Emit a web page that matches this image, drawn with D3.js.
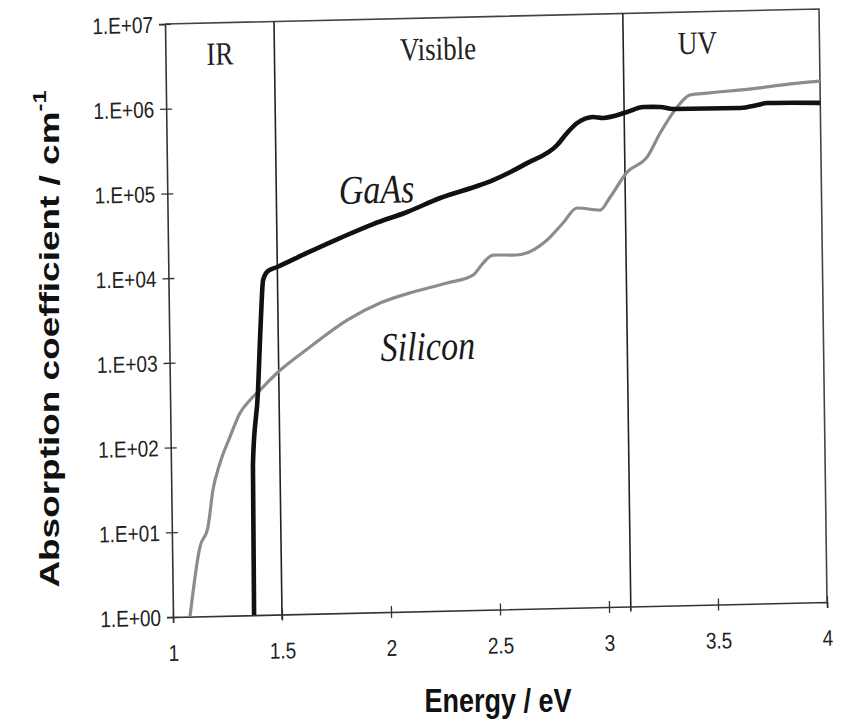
<!DOCTYPE html>
<html>
<head>
<meta charset="utf-8">
<script src="https://cdn.jsdelivr.net/npm/d3@7"></script>
<style>
  body { margin: 0; background: #fff; }
  svg { display: block; }
</style>
</head>
<body>
<svg id="chart" width="843" height="724"></svg>
<script>
// Axis ticks
const energyTicks = [1, 1.5, 2, 2.5, 3, 3.5, 4];
const energyTickLabels = ["1", "1.5", "2", "2.5", "3", "3.5", "4"];
const alphaTicks = [1, 10, 100, 1e3, 1e4, 1e5, 1e6, 1e7];
const alphaTickLabels = ["1.E+00", "1.E+01", "1.E+02", "1.E+03", "1.E+04", "1.E+05", "1.E+06", "1.E+07"];

// Spectral regions (boundaries in eV) and their names
const regionBounds = [1.5, 3.1];
const regionNames = ["IR", "Visible", "UV"];
const regionLabelEnergy = [1.25, 2.25, 3.44];

// GaAs absorption coefficient (cm^-1) vs photon energy (eV)
const gaasEnergy = [1.372, 1.376, 1.404, 1.416, 1.422, 1.434, 1.457, 1.499, 1.637, 1.789, 1.942, 2.099, 2.251, 2.435, 2.495, 2.652, 2.791, 2.837, 2.884, 2.957, 3.003, 3.114, 3.188, 3.266, 3.325, 3.633, 3.711, 3.756, 4.0];
const gaasAlpha = [1, 60, 450, 1760, 3280, 8950, 11400, 12650, 18200, 26700, 38300, 52000, 74500, 103500, 117500, 182000, 292000, 403000, 525000, 612000, 592000, 686000, 778000, 771000, 723000, 713000, 764000, 804000, 780000];

// Silicon absorption coefficient (cm^-1) vs photon energy (eV)
const siliconEnergy = [1.078, 1.128, 1.166, 1.191, 1.225, 1.272, 1.32, 1.367, 1.413, 1.492, 1.645, 1.817, 1.969, 2.121, 2.278, 2.397, 2.444, 2.49, 2.6, 2.739, 2.813, 2.878, 2.984, 3.031, 3.11, 3.203, 3.264, 3.344, 3.404, 3.482, 3.712, 3.863, 4.0];
const siliconAlpha = [1, 6.6, 11.3, 30.7, 63.7, 128, 245, 347, 452, 710, 1410, 2860, 4460, 5890, 7360, 9000, 12400, 15300, 15100, 22300, 35000, 52100, 48600, 68900, 134000, 200000, 380000, 762000, 1050000, 1090000, 1210000, 1330000, 1410000];

// Series labels and where they sit (energy, alpha)
const seriesNames = ["GaAs", "Silicon"];
const seriesLabelEnergy = [1.96, 2.185];
const seriesLabelAlpha = [67600, 920];

const W = 654, H = 593;
const svg = d3.select("#chart");

// The printed frame is slightly skewed; draw the plot in its own sheared frame.
const g = svg.append("g")
  .attr("transform", "matrix(1,-0.02294,0.01349,1,165,24)");

const x = d3.scaleLinear().domain([1, 4]).range([0, W]);
const y = d3.scaleLog().domain([1, 1e7]).range([H, 0]);

const axisColor = "#333";
const tickFont = "'Liberation Sans', Arial, sans-serif";
const serif = "'Liberation Serif', 'Times New Roman', serif";

// Frame: top and right edges
g.append("path")
  .attr("d", `M0,0H${W}V${H}`)
  .attr("fill", "none")
  .attr("stroke", "#444")
  .attr("stroke-width", 1.6);

// Region boundaries
g.selectAll("line.region")
  .data(regionBounds)
  .join("line")
  .attr("class", "region")
  .attr("x1", d => x(d)).attr("x2", d => x(d))
  .attr("y1", 0).attr("y2", H + 5)
  .attr("stroke", "#222")
  .attr("stroke-width", 1.6);

// Bottom axis
const xAxis = g.append("g")
  .attr("transform", `translate(0,${H})`)
  .call(d3.axisBottom(x)
    .tickValues(energyTicks)
    .tickFormat((d, i) => energyTickLabels[i])
    .tickSizeOuter(0)
    .tickSize(6));
xAxis.select(".domain").attr("stroke", axisColor).attr("stroke-width", 1.6);
xAxis.selectAll(".tick line").attr("y1", -6).attr("stroke", axisColor).attr("stroke-width", 1.3);
xAxis.selectAll(".tick text")
  .attr("y", null).attr("dy", null)
  .attr("transform", "translate(0,44) scale(1,1.2)")
  .attr("fill", "#222")
  .style("font-family", tickFont)
  .style("font-size", "19px");

// Left axis
const yAxis = g.append("g")
  .call(d3.axisLeft(y)
    .tickValues(alphaTicks)
    .tickFormat((d, i) => alphaTickLabels[i])
    .tickSizeOuter(0)
    .tickSize(6));
yAxis.select(".domain").attr("stroke", axisColor).attr("stroke-width", 1.6);
yAxis.selectAll(".tick line").attr("x1", 6).attr("stroke", axisColor).attr("stroke-width", 1.3);
yAxis.selectAll(".tick text")
  .attr("x", null).attr("dy", null)
  .attr("text-anchor", "end")
  .attr("transform", "translate(-12,8) scale(1,1.2)")
  .attr("fill", "#222")
  .style("font-family", tickFont)
  .style("font-size", "19px");

// Region names
g.selectAll("text.region")
  .data(regionNames)
  .join("text")
  .attr("class", "region")
  .attr("text-anchor", "middle")
  .attr("transform", (d, i) => `translate(${x(regionLabelEnergy[i])},42) scale(1,1.2)`)
  .attr("fill", "#222")
  .style("font-family", serif)
  .style("font-size", "27px")
  .text(d => d);

// Curves
const line = d3.line()
  .x(d => x(d[0]))
  .y(d => y(d[1]))
  .curve(d3.curveMonotoneX);

const silicon = siliconEnergy.map((e, i) => [e, siliconAlpha[i]]);
const gaas = gaasEnergy.map((e, i) => [e, gaasAlpha[i]]);

g.append("path")
  .datum(silicon)
  .attr("d", line)
  .attr("fill", "none")
  .attr("stroke", "#8c8c8c")
  .attr("stroke-width", 3.2)
  .attr("stroke-linejoin", "round");

g.append("path")
  .datum(gaas)
  .attr("d", line)
  .attr("fill", "none")
  .attr("stroke", "#111")
  .attr("stroke-width", 4.6)
  .attr("stroke-linejoin", "round");

// Series labels
g.selectAll("text.series")
  .data(seriesNames)
  .join("text")
  .attr("class", "series")
  .attr("text-anchor", "middle")
  .attr("transform", (d, i) => `translate(${x(seriesLabelEnergy[i])},${y(seriesLabelAlpha[i])}) scale(1,1.2)`)
  .attr("fill", "#1a1a1a")
  .style("font-family", serif)
  .style("font-style", "italic")
  .style("font-size", "34px")
  .text(d => d);

// Axis titles
svg.append("text")
  .attr("text-anchor", "middle")
  .attr("transform", "translate(498,712) scale(1,1.2)")
  .attr("fill", "#111")
  .style("font-family", tickFont)
  .style("font-weight", "bold")
  .style("font-size", "27px")
  .text("Energy / eV");

const yTitle = svg.append("text")
  .attr("text-anchor", "middle")
  .attr("transform", "translate(59,339) rotate(-90) scale(1.32,1)")
  .attr("fill", "#111")
  .style("font-family", tickFont)
  .style("font-weight", "bold")
  .style("font-size", "28px");
yTitle.append("tspan").text("Absorption coefficient / cm");
yTitle.append("tspan").attr("dy", -13).style("font-size", "18px").text("-1");
</script>
</body>
</html>
